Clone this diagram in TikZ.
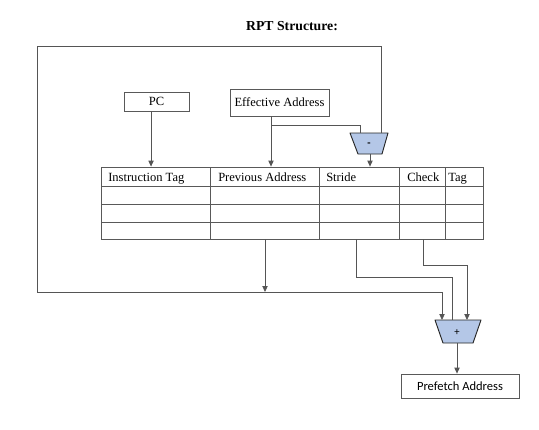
\documentclass[tikz,border=0pt]{standalone}
\usepackage{fontspec}
\setmainfont{Liberation Serif}
\newfontfamily\calibri{Carlito}
\usetikzlibrary{arrows.meta}
\definecolor{alublue}{HTML}{B4C7E7}
\definecolor{wiregray}{HTML}{555555}

\begin{document}
\begin{tikzpicture}[x=0.75pt, y=-0.75pt,
  nodes={font=\fontsize{9.4}{11}\selectfont},
  wire/.style={draw=wiregray, line width=0.6pt},
  arr/.style={wire, -{Triangle[width=4pt,length=4.5pt]}},
  box/.style={draw=black!65, line width=0.6pt, inner sep=0},
  hdr/.style={anchor=base west, inner sep=0},
  alu/.style={draw=black!85, fill=alublue, line width=0.7pt, line join=round},
  alulabel/.style={inner sep=0, font=\calibri\fontsize{8}{9}\selectfont}]
  \useasboundingbox (0,0) rectangle (539,429);

  \node[font=\bfseries\fontsize{10.3}{12}\selectfont] (title) at (292,26) {RPT Structure:};

  % sources
  \node[box, minimum width=48.75pt, minimum height=14.25pt] (pc) at (156.5,101.5) {PC};
  \node[box, minimum width=74.25pt, minimum height=20.25pt] (ea) at (279.5,102.5) {Effective Address};

  % RPT table
  \node[draw=black!65, line width=0.6pt, minimum width=286.5pt, minimum height=54pt, inner sep=0] (tab) at (292,203) {};
  \foreach \y in {186,204,222}
    \draw[draw=black!65, line width=0.6pt] (101,\y) -- (483,\y);
  \foreach \x in {210,319,399,445}
    \draw[draw=black!65, line width=0.6pt] (\x,167) -- (\x,239);
  \node[hdr] (h-itag) at (108,181) {Instruction Tag};
  \node[hdr] (h-prev) at (218,181) {Previous Address};
  \node[hdr] (h-stride) at (326,181) {Stride};
  \node[hdr] (h-check) at (407,181) {Check};
  \node[hdr] (h-tag) at (448,181) {Tag};

  % subtractor and adder
  \draw[alu] (350,133) -- (388,133) -- (382,154) -- (358,154) -- cycle;
  \node[alulabel] (sub) at (369,144.5) {\textbf{-}};
  \coordinate (sub-top) at (369,133);
  \coordinate (sub-bot) at (370,154);
  \draw[alu] (435,320) -- (481,320) -- (473,343) -- (443,343) -- cycle;
  \node[alulabel] (add) at (457,332.5) {+};
  \coordinate (add-top) at (458,320);
  \coordinate (add-bot) at (457,343);
  \node[box, font=\calibri\fontsize{9.4}{11}\selectfont, minimum width=88.5pt, minimum height=18pt] (pf) at (460,386) {Prefetch Address};

  % wiring points
  \coordinate (ea-tap) at (271,125);
  \coordinate (sub-a) at (360,125);
  \coordinate (sub-b) at (381,46);
  \coordinate (loop-tl) at (37,46);
  \coordinate (loop-bl) at (37,292);
  \coordinate (add-a) at (442,292);
  \coordinate (prev-out) at (265,239);
  \coordinate (prev-in) at (265,292);
  \coordinate (str-out) at (356,239);
  \coordinate (str-bend) at (452,277);
  \coordinate (chk-out) at (423,239);
  \coordinate (chk-bend) at (467,265);

  \draw[arr] ([xshift=-4.1pt]pc.south) -- ([xshift=-4.1pt]pc.south |- tab.north);
  \draw[arr] (ea-tap |- ea.south) -- (ea-tap |- tab.north);
  \draw[wire] (ea-tap) -- (sub-a) -- (sub-a |- sub-top);
  \draw[arr] (sub-bot) -- (sub-bot |- tab.north);
  \draw[arr] (sub-b |- sub-top) -- (sub-b) -- (loop-tl) -- (loop-bl) -- (add-a) -- (add-a |- add-top);
  \draw[arr] (prev-out) -- (prev-in);
  \draw[wire] (str-out) |- (str-bend) -- (str-bend |- add-top);
  \draw[arr] (chk-out) |- (chk-bend) -- (chk-bend |- add-top);
  \draw[arr] (add-bot) -- (add-bot |- pf.north);
\end{tikzpicture}
\end{document}
